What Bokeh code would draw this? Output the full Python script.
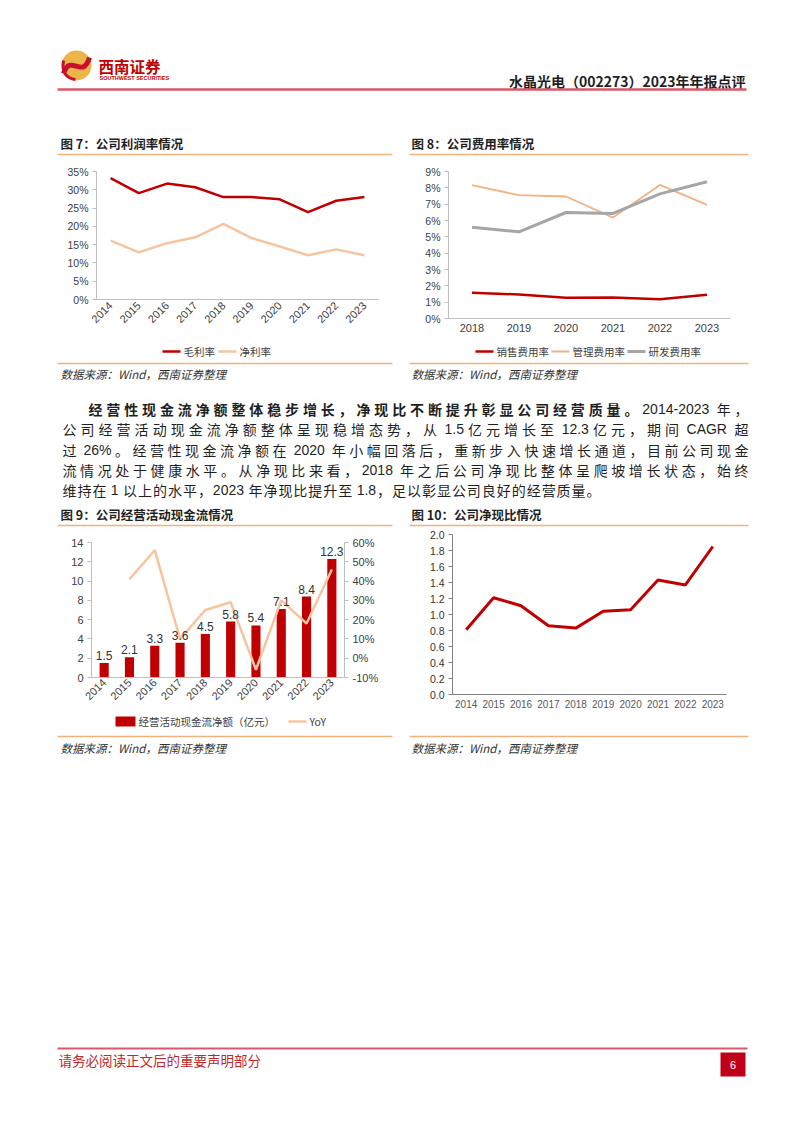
import math
from bokeh.plotting import figure
from bokeh.models import (Range1d, FactorRange, LinearAxis, PrintfTickFormatter,
                          NumeralTickFormatter, FixedTicker, ColumnDataSource)
from bokeh.layouts import column, row
from bokeh.embed import file_html
from bokeh.resources import INLINE
from bokeh.core.properties import value, field

# ---------------- data ----------------
years_a = ["2014", "2015", "2016", "2017", "2018", "2019", "2020", "2021", "2022", "2023"]
gross_margin = [33.2, 29.1, 31.7, 30.7, 28.0, 28.0, 27.4, 23.9, 27.0, 28.0]
net_margin = [16.1, 12.9, 15.4, 17.0, 20.7, 16.8, 14.5, 12.1, 13.7, 12.1]

years_b = ["2018", "2019", "2020", "2021", "2022", "2023"]
selling_rate = [1.57, 1.47, 1.27, 1.29, 1.18, 1.45]
admin_rate = [8.16, 7.55, 7.47, 6.18, 8.18, 6.96]
rnd_rate = [5.59, 5.31, 6.49, 6.43, 7.63, 8.37]

ocf = [1.5, 2.1, 3.3, 3.6, 4.5, 5.8, 5.4, 7.1, 8.4, 12.3]
ocf_yoy_years = years_a[1:]
ocf_yoy = [41, 56, 10, 25, 29, -6, 30, 18, 46]

cash_ratio = [0.81, 1.21, 1.11, 0.86, 0.83, 1.04, 1.06, 1.43, 1.37, 1.85]

paragraph = [
    "经营性现金流净额整体稳步增长，净现比不断提升彰显公司经营质量。2014-2023 年，",
    "公司经营活动现金流净额整体呈现稳增态势，从 1.5亿元增长至 12.3亿元，期间 CAGR 超",
    "过 26%。经营性现金流净额在 2020 年小幅回落后，重新步入快速增长通道，目前公司现金",
    "流情况处于健康水平。从净现比来看，2018 年之后公司净现比整体呈爬坡增长状态，始终",
    "维持在 1 以上的水平，2023 年净现比提升至 1.8，足以彰显公司良好的经营质量。",
]
bold_lead = "经营性现金流净额整体稳步增长，净现比不断提升彰显公司经营质量。"

# ---------------- style ----------------
CJK = "Noto Sans CJK SC"
LAT = "Liberation Sans"
RED = "#C00000"
PEACH = "#F7C4A0"
ORANGE = "#F4B183"
GRAY = "#A6A6A6"
RULE = "#EFB47E"
HDR = "#D9586A"
INK = "#1F1F1F"
AXC = "#BFBFBF"
LBL = "#404040"


def no_align(p):
    try:
        p.frame_align = False
    except AttributeError:
        pass


def band(h, y0):
    p = figure(width=802, height=h, x_range=Range1d(0, 802), y_range=Range1d(y0 + h, y0),
               x_axis_type=None, y_axis_type=None, output_backend="svg",
               toolbar_location=None, min_border=0,
               width_policy="fixed", height_policy="fixed")
    p.outline_line_color = None
    no_align(p)
    return p


def put(p, x, y, s, size, color=INK, font=CJK, style="normal", align="left"):
    p.text(x=[x], y=[y], text=[s], text_font=value(font), text_font_size=f"{size}px",
           text_font_style=style, text_color=color, text_align=align, text_baseline="middle")


def rule(p, x0, x1, y, color=RULE, w=1.5):
    p.segment(x0=[x0], y0=[y], x1=[x1], y1=[y], line_color=color, line_width=w)


def key_line(p, x, y, color, w, label, length=18):
    p.segment(x0=[x], y0=[y], x1=[x + length], y1=[y], line_color=color, line_width=w)
    put(p, x + length + 3, y, label, 10.5, color=LBL)


LAT_W = {**{d: 0.556 for d in "0123456789"}, ".": 0.278, "%": 0.889, "-": 0.333,
         "C": 0.722, "A": 0.667, "G": 0.778, "R": 0.722}


def tokenize(line, bold_n):
    toks = []
    buf, buf_i, buf_sp, sp = "", 0, False, False
    for i, ch in enumerate(line + " "):
        if ch == " " or ord(ch) >= 0x2E80:
            if buf:
                toks.append((buf, False, buf_i < bold_n, buf_sp))
                buf = ""
                sp = False
            if ch == " ":
                sp = True
            else:
                toks.append((ch, True, i < bold_n, sp))
                sp = False
        else:
            if not buf:
                buf_i, buf_sp = i, sp
                sp = False
            buf += ch
    return toks


def justify(p, line, x0, x1, y, fs, bold_n=0):
    toks = tokenize(line, bold_n)
    widths = [fs if t[1] else sum(LAT_W.get(c, 0.56) for c in t[0]) * fs for t in toks]
    spw = 0.25 * fs
    total = sum(widths) + spw * sum(1 for t in toks if t[3])
    gap = (x1 - x0 - total) / (len(toks) - 1)
    xs, x = [], x0
    for t, w in zip(toks, widths):
        if t[3]:
            x += spw
        xs.append(x)
        x += w + gap
    src = ColumnDataSource(dict(
        x=xs, y=[y] * len(xs), text=[t[0] for t in toks],
        font=[CJK if t[1] else LAT for t in toks],
        style=["bold" if t[2] else "normal" for t in toks]))
    p.text(x="x", y="y", text="text", source=src, text_font=field("font"),
           text_font_style=field("style"), text_font_size=f"{fs}px", text_color=INK,
           text_baseline="middle", text_align="left")


def chart(w, h, factors, yr, bl, br, bt, bb):
    p = figure(width=w, height=h, x_range=FactorRange(factors=factors), y_range=yr,
               output_backend="svg", toolbar_location=None,
               width_policy="fixed", height_policy="fixed",
               min_border_left=bl, min_border_right=br, min_border_top=bt, min_border_bottom=bb)
    p.xgrid.visible = False
    p.ygrid.visible = False
    p.outline_line_color = None
    no_align(p)
    return p


def style_axis(ax, line=AXC, lbl=LBL, size="10.5px", tick_out=4, standoff=4):
    ax.axis_line_color = line
    ax.major_tick_line_color = line if tick_out else None
    ax.major_tick_in = 0
    ax.major_tick_out = tick_out
    ax.minor_tick_line_color = None
    ax.major_label_text_font = LAT
    ax.major_label_text_font_size = size
    ax.major_label_text_color = lbl
    ax.major_label_standoff = standoff


# ---------------- band A: header + chart 7/8 titles (y 0..160) ----------------
A = band(160, 0)
A.circle(x=[76], y=[65], radius=15, fill_color="#EBB54A", line_color=None)
A.bezier(x0=[63], y0=[73], x1=[89], y1=[57], cx0=[70], cy0=[52], cx1=[82], cy1=[80],
         line_color="#C8102E", line_width=5)
A.bezier(x0=[63], y0=[60], x1=[75], y1=[79], cx0=[61], cy0=[72], cx1=[66], cy1=[78],
         line_color="#C8102E", line_width=3)
put(A, 98, 65, "西南证券", 15.5, color=RED, style="bold")
put(A, 99, 77.5, "SOUTHWEST SECURITIES", 5.5, color=RED, font=LAT, style="bold")
put(A, 745, 80, "水晶光电（002273）2023年年报点评", 14, color=INK, style="bold", align="right")
rule(A, 57, 746, 89, color=HDR, w=2.5)
put(A, 60, 143, "图 7：公司利润率情况", 12.5, style="bold")
put(A, 411, 143, "图 8：公司费用率情况", 12.5, style="bold")
rule(A, 57, 392, 154)
rule(A, 409, 748, 154)

# ---------------- row B: chart 7 and chart 8 (y 160..340) ----------------
p7 = chart(401, 180, years_a, Range1d(0, 35), bl=96, br=23, bt=11, bb=41)
p7.line(years_a, gross_margin, line_color=RED, line_width=2.5)
p7.line(years_a, net_margin, line_color=PEACH, line_width=2.5)
style_axis(p7.yaxis[0])
style_axis(p7.xaxis[0], tick_out=0, standoff=4, size="11px")
p7.yaxis.ticker = FixedTicker(ticks=list(range(0, 36, 5)))
p7.yaxis.formatter = PrintfTickFormatter(format="%d%%")
p7.xaxis.major_label_orientation = math.pi / 4

p8 = chart(401, 180, years_b, Range1d(0, 9), bl=47, br=72, bt=11, bb=22)
p8.line(years_b, selling_rate, line_color=RED, line_width=2.5)
p8.line(years_b, admin_rate, line_color=ORANGE, line_width=1.8)
p8.line(years_b, rnd_rate, line_color=GRAY, line_width=3)
style_axis(p8.yaxis[0])
style_axis(p8.xaxis[0], tick_out=0, standoff=5, size="11px")
p8.yaxis.ticker = FixedTicker(ticks=list(range(0, 10)))
p8.yaxis.formatter = PrintfTickFormatter(format="%d%%")

# ---------------- band C: legends, sources, paragraph, chart 9/10 titles (y 340..530) ----------------
C = band(190, 340)
key_line(C, 162, 351, RED, 2.5, "毛利率")
key_line(C, 218, 351, PEACH, 2.5, "净利率")
key_line(C, 475, 351, RED, 2.5, "销售费用率")
key_line(C, 551, 351, ORANGE, 1.8, "管理费用率")
key_line(C, 627, 351, GRAY, 3, "研发费用率")
rule(C, 57, 392, 363)
rule(C, 409, 748, 363)
put(C, 60, 373, "数据来源：Wind，西南证券整理", 11.5, color="#333333", style="italic")
put(C, 411, 373, "数据来源：Wind，西南证券整理", 11.5, color="#333333", style="italic")
line_y = [408, 428.5, 449, 469, 489.5]
justify(C, paragraph[0], 88, 748, line_y[0], 14, bold_n=len(bold_lead))
justify(C, paragraph[1], 62, 748, line_y[1], 14)
justify(C, paragraph[2], 62, 748, line_y[2], 14)
justify(C, paragraph[3], 62, 748, line_y[3], 14)
justify(C, paragraph[4], 62, 600, line_y[4], 14)
put(C, 60, 514, "图 9：公司经营活动现金流情况", 12.5, style="bold")
put(C, 411, 514, "图 10：公司净现比情况", 12.5, style="bold")
rule(C, 57, 392, 525)
rule(C, 409, 748, 525)

# ---------------- row D: chart 9 and chart 10 (y 530..712) ----------------
p9 = chart(401, 182, years_a, Range1d(0, 14), bl=91, br=57, bt=12, bb=35)
p9.extra_y_ranges = {"yoy": Range1d(-10, 60)}
p9.vbar(x=years_a, top=ocf, width=0.36, fill_color=RED, line_color=None)
p9.line(ocf_yoy_years, ocf_yoy, y_range_name="yoy", line_color=PEACH, line_width=2.5)
p9.text(x=years_a, y=ocf, text=[f"{v:.1f}" for v in ocf], text_font=value(LAT),
        text_font_size="12px", text_color="#333333", text_align="center",
        text_baseline="bottom", y_offset=-3)
style_axis(p9.yaxis[0], size="11px")
style_axis(p9.xaxis[0], tick_out=0, standoff=3, size="11px")
p9.yaxis[0].ticker = FixedTicker(ticks=list(range(0, 15, 2)))
ax9 = LinearAxis(y_range_name="yoy", ticker=FixedTicker(ticks=list(range(-10, 61, 10))),
                 formatter=PrintfTickFormatter(format="%d%%"))
style_axis(ax9, size="11px")
p9.add_layout(ax9, "right")
p9.xaxis.major_label_orientation = math.pi / 4

p10 = chart(401, 182, years_a, Range1d(0, 2), bl=51, br=76, bt=4, bb=18)
p10.line(years_a, cash_ratio, line_color=RED, line_width=3)
style_axis(p10.yaxis[0], line="#808080", lbl="#333333")
style_axis(p10.xaxis[0], line="#808080", lbl="#595959", size="10px", tick_out=0, standoff=5)
p10.yaxis.ticker = FixedTicker(ticks=[i / 5 for i in range(0, 11)])
p10.yaxis.formatter = NumeralTickFormatter(format="0.0")

# ---------------- band E: legend 9, sources, footer (y 712..1133) ----------------
E = band(421, 712)
E.quad(left=[115], right=[135], top=[716], bottom=[726], fill_color=RED, line_color=None)
put(E, 138, 721, "经营活动现金流净额（亿元）", 10.5, color=LBL)
key_line(E, 288, 721, PEACH, 2.5, "YoY")
rule(E, 57, 392, 736)
rule(E, 409, 748, 736)
put(E, 60, 747, "数据来源：Wind，西南证券整理", 11.5, color="#333333", style="italic")
put(E, 411, 747, "数据来源：Wind，西南证券整理", 11.5, color="#333333", style="italic")
rule(E, 57, 747, 1048, color=HDR, w=2)
put(E, 58, 1059, "请务必阅读正文后的重要声明部分", 13.5, color="#C0282D")
E.quad(left=[720], right=[745], top=[1052], bottom=[1076], fill_color="#C00018", line_color=None)
put(E, 732.5, 1064, "6", 11, color="white", font=LAT, align="center")

page = column(A, row(p7, p8), C, row(p9, p10), E)
open("out.html", "w").write(file_html(page, INLINE, title="水晶光电 2023年年报点评"))
